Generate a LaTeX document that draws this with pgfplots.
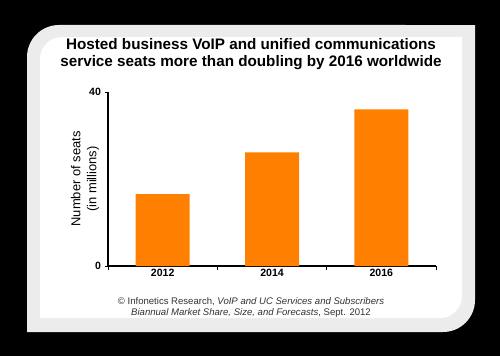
\documentclass[border=0pt]{standalone}
\usepackage{pgfplots}
\pgfplotsset{compat=1.18}
\usepackage{fontspec}
\setmainfont{Liberation Sans}
\definecolor{barorange}{RGB}{255,128,0}
\definecolor{framegray}{RGB}{236,236,236}
\definecolor{captiongray}{RGB}{50,50,50}
\begin{document}
\begin{tikzpicture}[x=1bp,y=1bp]
\fill[black] (0,0) rectangle (500,356);
% frame
\fill[framegray] (27,24) -- (27,299) arc[start angle=180, end angle=90, radius=32bp] -- (475,331) -- (475,56) arc[start angle=0, end angle=-90, radius=32bp] -- cycle;
\fill[white] (40,38) -- (40,297) arc[start angle=180, end angle=90, radius=22bp] -- (462,319) -- (462,60) arc[start angle=0, end angle=-90, radius=22bp] -- cycle;
% title
\node[align=center, font=\fontsize{15.3}{16.8}\selectfont\bfseries] at (251,302)
  {Hosted business VoIP and unified communications\\service seats more than doubling by 2016 worldwide};
\begin{axis}[
  at={(108bp,90bp)}, anchor=south west,
  scale only axis, width=328bp, height=174bp,
  xmin=-0.5, xmax=2.5, ymin=0, ymax=40,
  ybar, bar width=54bp,
  axis x line=bottom, axis y line=left,
  axis line style={-, line width=1.1pt, black},
  tick align=outside,
  ytick={0,40},
  xtick={-0.5,0.5,1.5,2.5}, xticklabels={,,,},
  extra x ticks={0,1,2}, extra x tick labels={2012,2014,2016},
  extra x tick style={major tick length=0pt, tick style={draw=none}},
  major tick length=3.5bp,
  tick style={line width=0.9pt, black},
  /pgf/number format/assume math mode=true,
  ticklabel style={font=\fontsize{10.6}{12}\selectfont\bfseries},
  ylabel={Number of seats\\(in millions)},
  every axis y label/.style={at={(axis description cs:-0.07,0.5)}, rotate=90, anchor=center, align=center, font=\fontsize{13}{16}\selectfont},
  clip=false,
]
\addplot[fill=barorange, draw=none] coordinates {(0,16.5) (1,26.1) (2,36.0)};
\end{axis}
% source
\node[align=center, text=captiongray, font=\fontsize{9.6}{11.5}\selectfont] at (251,48.5)
  {\textcopyright{} Infonetics Research, \textit{VoIP and UC Services and Subscribers}\\
   \textit{Biannual Market Share, Size, and Forecasts}, Sept. 2012};
\end{tikzpicture}
\end{document}
